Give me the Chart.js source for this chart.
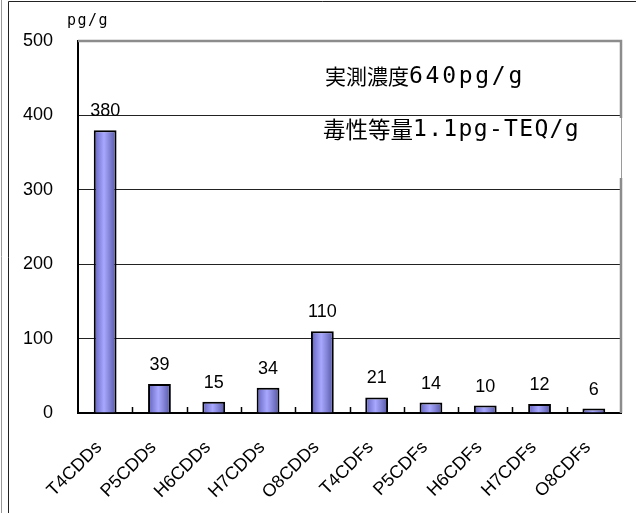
<!DOCTYPE html>
<html>
<head>
<meta charset="utf-8">
<script src="https://cdn.jsdelivr.net/npm/chart.js@4"></script>
<style>
  html, body { margin: 0; padding: 0; background: #fff; }
  #wrap { position: relative; width: 636px; height: 513px; }
</style>
</head>
<body>
<div id="wrap"><canvas id="dioxin-chart" width="636" height="513"></canvas></div>
<script>
// congener groups and measured concentrations (pg/g)
const congeners = ["T4CDDs", "P5CDDs", "H6CDDs", "H7CDDs", "O8CDDs",
                   "T4CDFs", "P5CDFs", "H6CDFs", "H7CDFs", "O8CDFs"];
const concentrations = [380, 39, 15, 34, 110, 21, 14, 10, 12, 6];
const yTicks = [0, 100, 200, 300, 400, 500];
// each note: Japanese part, then the figure with its unit
const noteKanji = ["実測濃度", "毒性等量"];
const noteValue = ["640pg/g", "1.1pg-TEQ/g"];
const unitLabel = "pg/g";

const numFont = "'Liberation Sans', Arial, sans-serif";
const jpFont = "'Noto Sans CJK JP', sans-serif";
const monoFont = "'DejaVu Sans Mono', monospace";

// draws a string spread out to a given width
function spreadText(ctx, text, x, y, width) {
  ctx.letterSpacing = "0px";
  const w = ctx.measureText(text).width;
  ctx.letterSpacing = ((width - w) / text.length).toFixed(2) + "px";
  ctx.fillText(text, x, y);
  ctx.letterSpacing = "0px";
}

// outer frame, unit label, plot border, notes, tick marks, value labels
const decorations = {
  id: "decorations",
  beforeDatasetsDraw(chart) {
    // cylinder-style shading on each bar
    const ctx = chart.ctx;
    chart.getDatasetMeta(0).data.forEach(bar => {
      const half = bar.width / 2;
      const g = ctx.createLinearGradient(bar.x - half, 0, bar.x + half, 0);
      g.addColorStop(0, "#6060bc");
      g.addColorStop(0.45, "#a8a8ff");
      g.addColorStop(1, "#5454a4");
      bar.options = Object.assign({}, bar.options, { backgroundColor: g });
    });
  },
  afterDraw(chart) {
    const ctx = chart.ctx;
    const a = chart.chartArea;
    const x = chart.scales.x;
    const y = chart.scales.y;
    ctx.save();

    // outer frame
    ctx.strokeStyle = "#999";
    ctx.lineWidth = 1;
    ctx.beginPath();
    ctx.moveTo(1.5, 0); ctx.lineTo(1.5, 513);
    ctx.stroke();
    ctx.strokeStyle = "#222";
    ctx.beginPath();
    ctx.moveTo(8.5, 513); ctx.lineTo(8.5, 1.5); ctx.lineTo(636, 1.5);
    ctx.stroke();

    // unit label
    ctx.fillStyle = "#000";
    ctx.font = "15px " + monoFont;
    ctx.textAlign = "left";
    ctx.textBaseline = "middle";
    spreadText(ctx, unitLabel, 67, 21, 42);

    // plot border: top and right in grey, broken by the note box
    const boxTop = 118, boxBottom = 178;
    ctx.strokeStyle = "#8c8c8c";
    ctx.lineWidth = 2.5;
    ctx.beginPath();
    ctx.moveTo(a.left, a.top); ctx.lineTo(a.right, a.top); ctx.lineTo(a.right, boxTop);
    ctx.moveTo(a.right, boxBottom); ctx.lineTo(a.right, a.bottom);
    ctx.stroke();
    ctx.lineWidth = 1;
    ctx.strokeStyle = "#9a9a9a";
    ctx.beginPath();
    ctx.moveTo(a.right + 0.5, boxTop); ctx.lineTo(a.right + 0.5, boxBottom);
    ctx.stroke();

    // notes
    ctx.fillStyle = "#000";
    ctx.textAlign = "left";
    ctx.textBaseline = "middle";
    ctx.font = "21px " + jpFont;
    ctx.fillText(noteKanji[0], 325, 76);
    ctx.font = "23px " + monoFont;
    spreadText(ctx, noteValue[0], 409, 77, 116);
    ctx.font = "22.5px " + jpFont;
    ctx.fillText(noteKanji[1], 323, 129);
    ctx.font = "23px " + monoFont;
    spreadText(ctx, noteValue[1], 413, 130, 167);

    // short tick marks pointing up between categories
    ctx.strokeStyle = "#000";
    ctx.lineWidth = 1.5;
    ctx.beginPath();
    for (let i = 1; i < congeners.length; i++) {
      const px = Math.round((x.getPixelForValue(i - 1) + x.getPixelForValue(i)) / 2) + 0.5;
      ctx.moveTo(px, y.getPixelForValue(0));
      ctx.lineTo(px, y.getPixelForValue(0) - 6);
    }
    ctx.stroke();

    // value labels above bars
    ctx.font = "18px " + numFont;
    ctx.textAlign = "center";
    ctx.textBaseline = "bottom";
    chart.getDatasetMeta(0).data.forEach((bar, i) => {
      ctx.fillText(String(concentrations[i]), bar.x, bar.y - 10);
    });
    ctx.restore();
  }
};

new Chart("dioxin-chart", {
  type: "bar",
  data: {
    labels: congeners,
    datasets: [
      {
        data: concentrations,
        backgroundColor: "#9999ff",
        borderColor: "#000",
        borderWidth: 2,
        borderSkipped: "bottom",
        barPercentage: 0.42,
        categoryPercentage: 1
      }
    ]
  },
  options: {
    responsive: false,
    animation: false,
    layout: { padding: { top: 41, right: 15, left: 10, bottom: 0 } },
    plugins: { legend: { display: false }, tooltip: { enabled: false } },
    scales: {
      x: {
        z: 1,
        grid: { display: false },
        border: { color: "#000", width: 2 },
        ticks: {
          color: "#000",
          font: { family: numFont, size: 18 },
          minRotation: 45,
          maxRotation: 45,
          padding: 16,
          labelOffset: -6
        },
        afterFit(scale) { scale.height = 100; }
      },
      y: {
        min: 0,
        max: 500,
        afterBuildTicks(scale) { scale.ticks = yTicks.map(v => ({ value: v })); },
        grid: {
          drawTicks: false,
          color: ctx => (ctx.tick && ctx.tick.value === 500 ? "rgba(0,0,0,0)" : "#222"),
          lineWidth: 1
        },
        border: { color: "#000", width: 2 },
        ticks: {
          color: "#000",
          font: { family: numFont, size: 18 },
          padding: 25
        },
        afterFit(scale) { scale.width = 68; }
      }
    }
  },
  plugins: [decorations]
});
</script>
</body>
</html>
